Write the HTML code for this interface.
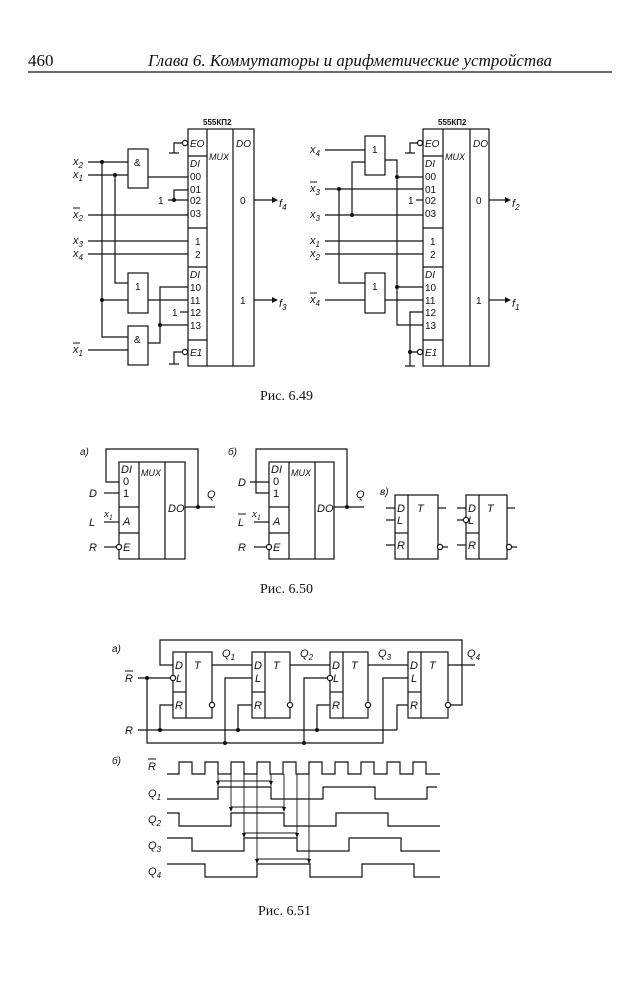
<!DOCTYPE html>
<html><head><meta charset="utf-8"><style>
body{margin:0;background:#fff;}
svg{display:block}
text{font-family:"Liberation Sans",sans-serif;fill:#111}
.i{font-style:italic}
.s{font-family:"Liberation Serif",serif}
</style></head><body>
<svg width="639" height="1000" viewBox="0 0 639 1000" xmlns="http://www.w3.org/2000/svg">
<g stroke="#111" stroke-width="1.2" fill="none">
<line x1="28" y1="72" x2="612" y2="72"/>
</g>
<text x="28" y="66" class="s" font-size="17">460</text>
<text x="148" y="66" class="s i" font-size="17">Глава 6.  Коммутаторы и арифметические устройства</text>

<!-- ===== Fig 6.49 left ===== -->
<g stroke="#111" stroke-width="1.2" fill="none">
<rect x="188" y="129" width="66" height="237"/>
<line x1="207" y1="129" x2="207" y2="366"/><line x1="233" y1="129" x2="233" y2="366"/>
<line x1="188" y1="156" x2="207" y2="156"/><line x1="188" y1="228" x2="207" y2="228"/>
<line x1="188" y1="267" x2="207" y2="267"/><line x1="188" y1="340" x2="207" y2="340"/>
<circle cx="185" cy="143" r="2.6" fill="#fff"/><polyline points="182,143 174,143 174,153"/><line x1="169" y1="153" x2="179" y2="153"/>
<circle cx="185" cy="352" r="2.6" fill="#fff"/><polyline points="182,352 174,352 174,364"/><line x1="169" y1="364" x2="179" y2="364"/>
<rect x="128" y="149" width="20" height="39"/>
<rect x="128" y="273" width="20" height="40"/>
<rect x="128" y="326" width="20" height="39"/>
<line x1="88" y1="162" x2="128" y2="162"/><line x1="88" y1="175" x2="128" y2="175"/>
<polyline points="148,177 188,177"/>
<polyline points="188,190 174,190 174,200"/><line x1="168" y1="200" x2="188" y2="200"/>
<line x1="88" y1="215" x2="188" y2="215"/>
<line x1="88" y1="241" x2="188" y2="241"/><line x1="88" y1="254" x2="188" y2="254"/>
<polyline points="115,175 115,283 128,283"/>
<polyline points="102,162 102,337 128,337"/><line x1="102" y1="300" x2="128" y2="300"/>
<line x1="148" y1="300" x2="188" y2="300"/>
<polyline points="148,343 160,343 160,287 188,287"/><line x1="160" y1="325" x2="188" y2="325"/>
<line x1="180" y1="312" x2="188" y2="312"/>
<line x1="88" y1="350" x2="128" y2="350"/>
<line x1="254" y1="200" x2="272" y2="200"/><line x1="254" y1="300" x2="272" y2="300"/>
</g>
<g fill="#111"><circle cx="102" cy="162" r="2"/><circle cx="115" cy="175" r="2"/><circle cx="174" cy="200" r="2"/><circle cx="102" cy="300" r="2"/><circle cx="160" cy="325" r="2"/>
<polygon points="272,197 278,200 272,203"/><polygon points="272,297 278,300 272,303"/></g>
<g font-size="10">
<text x="203" y="125" font-weight="bold" font-size="8">555КП2</text>
<text x="190" y="147" class="i">EO</text><text x="236" y="147" class="i">DO</text><text x="209" y="160" class="i" font-size="9">MUX</text>
<text x="190" y="167" class="i">DI</text><text x="190" y="180">00</text><text x="190" y="193">01</text><text x="190" y="204">02</text><text x="190" y="217">03</text>
<text x="195" y="245">1</text><text x="195" y="258">2</text>
<text x="190" y="278" class="i">DI</text><text x="190" y="291">10</text><text x="190" y="304">11</text><text x="190" y="316">12</text><text x="190" y="329">13</text>
<text x="190" y="356" class="i">E1</text>
<text x="240" y="204">0</text><text x="240" y="304">1</text>
<text x="134" y="166">&amp;</text><text x="135" y="290">1</text><text x="134" y="343">&amp;</text>
<text x="158" y="204">1</text><text x="172" y="316">1</text>
</g>
<g font-size="11" class="i s">
<text x="73" y="165">x<tspan font-size="8" dy="3">2</tspan></text>
<text x="73" y="178">x<tspan font-size="8" dy="3">1</tspan></text>
<text x="73" y="218">x<tspan font-size="8" dy="3">2</tspan></text>
<text x="73" y="244">x<tspan font-size="8" dy="3">3</tspan></text>
<text x="73" y="257">x<tspan font-size="8" dy="3">4</tspan></text>
<text x="73" y="353">x<tspan font-size="8" dy="3">1</tspan></text>
<text x="279" y="207">f<tspan font-size="8" dy="3">4</tspan></text>
<text x="279" y="307">f<tspan font-size="8" dy="3">3</tspan></text>
</g>
<g stroke="#111"><line x1="73" y1="208" x2="80" y2="208"/><line x1="73" y1="343" x2="80" y2="343"/></g>

<!-- ===== Fig 6.49 right ===== -->
<g stroke="#111" stroke-width="1.2" fill="none">
<rect x="423" y="129" width="66" height="237"/>
<line x1="443" y1="129" x2="443" y2="366"/><line x1="470" y1="129" x2="470" y2="366"/>
<line x1="423" y1="156" x2="443" y2="156"/><line x1="423" y1="228" x2="443" y2="228"/>
<line x1="423" y1="267" x2="443" y2="267"/><line x1="423" y1="340" x2="443" y2="340"/>
<circle cx="420" cy="143" r="2.6" fill="#fff"/><polyline points="417,143 410,143 410,153"/><line x1="405" y1="153" x2="415" y2="153"/>
<circle cx="420" cy="352" r="2.6" fill="#fff"/><polyline points="417,352 410,352 410,366"/><line x1="405" y1="366" x2="415" y2="366"/>
<polyline points="423,312 410,312 410,352"/>
<rect x="365" y="136" width="20" height="39"/>
<rect x="365" y="273" width="20" height="40"/>
<line x1="325" y1="150" x2="365" y2="150"/>
<polyline points="385,160 397,160 397,325 423,325"/><line x1="397" y1="177" x2="423" y2="177"/><line x1="397" y1="287" x2="423" y2="287"/>
<line x1="325" y1="189" x2="423" y2="189"/><line x1="416" y1="200" x2="423" y2="200"/>
<line x1="325" y1="215" x2="423" y2="215"/>
<polyline points="352,215 352,162 365,162"/>
<polyline points="339,189 339,283 365,283"/>
<line x1="325" y1="241" x2="423" y2="241"/><line x1="325" y1="254" x2="423" y2="254"/>
<line x1="325" y1="300" x2="365" y2="300"/><line x1="385" y1="300" x2="423" y2="300"/>
<line x1="489" y1="200" x2="505" y2="200"/><line x1="489" y1="300" x2="505" y2="300"/>
</g>
<g fill="#111"><circle cx="397" cy="177" r="2"/><circle cx="397" cy="287" r="2"/><circle cx="339" cy="189" r="2"/><circle cx="352" cy="215" r="2"/><circle cx="410" cy="352" r="2"/>
<polygon points="505,197 511,200 505,203"/><polygon points="505,297 511,300 505,303"/></g>
<g font-size="10">
<text x="438" y="125" font-weight="bold" font-size="8">555КП2</text>
<text x="425" y="147" class="i">EO</text><text x="473" y="147" class="i">DO</text><text x="445" y="160" class="i" font-size="9">MUX</text>
<text x="425" y="167" class="i">DI</text><text x="425" y="180">00</text><text x="425" y="193">01</text><text x="425" y="204">02</text><text x="425" y="217">03</text>
<text x="430" y="245">1</text><text x="430" y="258">2</text>
<text x="425" y="278" class="i">DI</text><text x="425" y="291">10</text><text x="425" y="304">11</text><text x="425" y="316">12</text><text x="425" y="329">13</text>
<text x="425" y="356" class="i">E1</text>
<text x="476" y="204">0</text><text x="476" y="304">1</text>
<text x="372" y="153">1</text><text x="372" y="290">1</text>
<text x="408" y="204">1</text>
</g>
<g font-size="11" class="i s">
<text x="310" y="153">x<tspan font-size="8" dy="3">4</tspan></text>
<text x="310" y="192">x<tspan font-size="8" dy="3">3</tspan></text>
<text x="310" y="218">x<tspan font-size="8" dy="3">3</tspan></text>
<text x="310" y="244">x<tspan font-size="8" dy="3">1</tspan></text>
<text x="310" y="257">x<tspan font-size="8" dy="3">2</tspan></text>
<text x="310" y="303">x<tspan font-size="8" dy="3">4</tspan></text>
<text x="512" y="207">f<tspan font-size="8" dy="3">2</tspan></text>
<text x="512" y="307">f<tspan font-size="8" dy="3">1</tspan></text>
</g>
<g stroke="#111"><line x1="310" y1="182" x2="317" y2="182"/><line x1="310" y1="293" x2="317" y2="293"/></g>
<text x="260" y="400" class="s" font-size="14">Рис. 6.49</text>

<!-- ===== Fig 6.50 ===== -->
<g stroke="#111" stroke-width="1.2" fill="none">
<rect x="119" y="462" width="66" height="97"/>
<line x1="139" y1="462" x2="139" y2="559"/><line x1="165" y1="462" x2="165" y2="559"/>
<line x1="119" y1="507" x2="139" y2="507"/><line x1="119" y1="533" x2="139" y2="533"/>
<polyline points="119,482 106,482 106,449 198,449 198,507"/>
<line x1="185" y1="507" x2="215" y2="507"/>
<line x1="104" y1="493" x2="119" y2="493"/><line x1="104" y1="522" x2="119" y2="522"/>
<line x1="104" y1="547" x2="116" y2="547"/><circle cx="119" cy="547" r="2.6" fill="#fff"/>

<rect x="269" y="462" width="65" height="97"/>
<line x1="289" y1="462" x2="289" y2="559"/><line x1="315" y1="462" x2="315" y2="559"/>
<line x1="269" y1="507" x2="289" y2="507"/><line x1="269" y1="533" x2="289" y2="533"/>
<polyline points="269,493 256,493 256,449 347,449 347,507"/>
<line x1="334" y1="507" x2="364" y2="507"/>
<line x1="250" y1="482" x2="269" y2="482"/><line x1="254" y1="522" x2="269" y2="522"/>
<line x1="254" y1="547" x2="266" y2="547"/><circle cx="269" cy="547" r="2.6" fill="#fff"/>

<rect x="395" y="495" width="43" height="64"/><line x1="408" y1="495" x2="408" y2="559"/><line x1="395" y1="533" x2="408" y2="533"/>
<line x1="386" y1="508" x2="395" y2="508"/><line x1="386" y1="520" x2="395" y2="520"/><line x1="386" y1="545" x2="395" y2="545"/>
<line x1="438" y1="508" x2="446" y2="508"/><circle cx="440" cy="547" r="2.6" fill="#fff"/><line x1="443" y1="547" x2="448" y2="547"/>
<rect x="466" y="495" width="41" height="64"/><line x1="479" y1="495" x2="479" y2="559"/><line x1="466" y1="533" x2="479" y2="533"/>
<line x1="457" y1="508" x2="466" y2="508"/><line x1="457" y1="520" x2="463" y2="520"/><circle cx="466" cy="520" r="2.6" fill="#fff"/><line x1="457" y1="545" x2="466" y2="545"/>
<line x1="507" y1="508" x2="515" y2="508"/><circle cx="509" cy="547" r="2.6" fill="#fff"/><line x1="512" y1="547" x2="517" y2="547"/>
</g>
<g fill="#111"><circle cx="198" cy="507" r="2"/><circle cx="347" cy="507" r="2"/></g>
<g font-size="11" class="i">
<text x="80" y="455" font-size="10">a)</text><text x="228" y="455" font-size="10">б)</text><text x="380" y="495" font-size="10">в)</text>
<text x="121" y="473">DI</text><text x="141" y="476" font-size="9">MUX</text><text x="123" y="485" style="font-style:normal">0</text><text x="123" y="497" style="font-style:normal">1</text>
<text x="123" y="525">A</text><text x="123" y="551">E</text><text x="168" y="512">DO</text>
<text x="89" y="497">D</text><text x="89" y="526">L</text><text x="89" y="551">R</text><text x="104" y="517" class="s">x<tspan font-size="8" dy="3">1</tspan></text><text x="207" y="498">Q</text>
<text x="271" y="473">DI</text><text x="291" y="476" font-size="9">MUX</text><text x="273" y="485" style="font-style:normal">0</text><text x="273" y="497" style="font-style:normal">1</text>
<text x="273" y="525">A</text><text x="273" y="551">E</text><text x="317" y="512">DO</text>
<text x="238" y="486">D</text><text x="238" y="526">L</text><text x="238" y="551">R</text><text x="252" y="517" class="s">x<tspan font-size="8" dy="3">1</tspan></text><text x="356" y="498">Q</text>
<text x="397" y="512">D</text><text x="397" y="524">L</text><text x="397" y="549">R</text><text x="417" y="512">T</text>
<text x="468" y="512">D</text><text x="468" y="524">L</text><text x="468" y="549">R</text><text x="487" y="512">T</text>
</g>
<line x1="238" y1="514" x2="246" y2="514" stroke="#111"/>
<text x="260" y="593" class="s" font-size="14">Рис. 6.50</text>

<!-- ===== Fig 6.51 ===== -->
<g stroke="#111" stroke-width="1.2" fill="none">
<rect x="173" y="652" width="39" height="66"/><line x1="186" y1="652" x2="186" y2="718"/><line x1="173" y1="692" x2="186" y2="692"/>
<rect x="252" y="652" width="38" height="66"/><line x1="265" y1="652" x2="265" y2="718"/><line x1="252" y1="692" x2="265" y2="692"/>
<rect x="330" y="652" width="38" height="66"/><line x1="343" y1="652" x2="343" y2="718"/><line x1="330" y1="692" x2="343" y2="692"/>
<rect x="408" y="652" width="40" height="66"/><line x1="421" y1="652" x2="421" y2="718"/><line x1="408" y1="692" x2="421" y2="692"/>
<line x1="212" y1="665" x2="252" y2="665"/><line x1="290" y1="665" x2="330" y2="665"/><line x1="368" y1="665" x2="408" y2="665"/><line x1="448" y1="665" x2="475" y2="665"/>
<polyline points="173,665 160,665 160,640 462,640 462,705 451,705"/>
<circle cx="212" cy="705" r="2.6" fill="#fff"/><circle cx="290" cy="705" r="2.6" fill="#fff"/><circle cx="368" cy="705" r="2.6" fill="#fff"/><circle cx="448" cy="705" r="2.6" fill="#fff"/>
<line x1="138" y1="678" x2="170" y2="678"/><circle cx="173" cy="678" r="2.6" fill="#fff"/>
<polyline points="147,678 147,743 383,743 383,678 408,678"/>
<polyline points="225,743 225,678 252,678"/>
<polyline points="304,743 304,678 327,678"/><circle cx="330" cy="678" r="2.6" fill="#fff"/>
<line x1="138" y1="730" x2="397" y2="730"/>
<polyline points="160,730 160,705 173,705"/><polyline points="238,730 238,705 252,705"/><polyline points="317,730 317,705 330,705"/><polyline points="397,730 397,705 408,705"/>
<!-- waveforms -->
<path d="M167,774 H179 V762 H192 V774 H205 V762 H218 V774 H231 V762 H244 V774 H257 V762 H270 V774 H283 V762 H296 V774 H309 V762 H322 V774 H335 V762 H348 V774 H361 V762 H374 V774 H387 V762 H400 V774 H413 V762 H426 V774 H440"/>
<path d="M167,799 H218 V787 H271 V799 H323 V787 H375 V799 H427 V787 H437"/>
<path d="M167,813 H179 V826 H231 V813 H284 V826 H336 V813 H388 V826 H440"/>
<path d="M167,838 H192 V851 H244 V838 H297 V851 H349 V838 H401 V851 H440"/>
<path d="M167,864 H205 V877 H257 V864 H310 V877 H362 V864 H414 V877 H440"/>
<g stroke-width="0.9">
<line x1="218" y1="774" x2="218" y2="786"/><line x1="271" y1="774" x2="271" y2="786"/><line x1="218" y1="781" x2="271" y2="781"/>
<line x1="231" y1="774" x2="231" y2="811"/><line x1="284" y1="774" x2="284" y2="811"/><line x1="231" y1="807" x2="284" y2="807"/>
<line x1="244" y1="774" x2="244" y2="837"/><line x1="297" y1="774" x2="297" y2="837"/><line x1="244" y1="833" x2="297" y2="833"/>
<line x1="257" y1="774" x2="257" y2="863"/><line x1="309" y1="774" x2="309" y2="863"/><line x1="257" y1="859" x2="309" y2="859"/>
</g>
</g>
<g fill="#111"><circle cx="147" cy="678" r="2"/><circle cx="160" cy="730" r="2"/><circle cx="238" cy="730" r="2"/><circle cx="317" cy="730" r="2"/><circle cx="225" cy="743" r="2"/><circle cx="304" cy="743" r="2"/>
<polygon points="216,781 220,781 218,786"/><polygon points="269,781 273,781 271,786"/>
<polygon points="229,807 233,807 231,812"/><polygon points="282,807 286,807 284,812"/>
<polygon points="242,833 246,833 244,838"/><polygon points="295,833 299,833 297,838"/>
<polygon points="255,859 259,859 257,864"/><polygon points="307,859 311,859 309,864"/></g>
<g font-size="11" class="i">
<text x="112" y="652" font-size="10">a)</text><text x="112" y="764" font-size="10">б)</text>
<text x="175" y="669">D</text><text x="176" y="682">L</text><text x="175" y="709">R</text><text x="194" y="669">T</text>
<text x="254" y="669">D</text><text x="255" y="682">L</text><text x="254" y="709">R</text><text x="273" y="669">T</text>
<text x="332" y="669">D</text><text x="333" y="682">L</text><text x="332" y="709">R</text><text x="351" y="669">T</text>
<text x="410" y="669">D</text><text x="411" y="682">L</text><text x="410" y="709">R</text><text x="429" y="669">T</text>
<text x="222" y="657">Q<tspan font-size="8" dy="3">1</tspan></text><text x="300" y="657">Q<tspan font-size="8" dy="3">2</tspan></text>
<text x="378" y="657">Q<tspan font-size="8" dy="3">3</tspan></text><text x="467" y="657">Q<tspan font-size="8" dy="3">4</tspan></text>
<text x="125" y="682">R</text><text x="125" y="734">R</text>
<text x="148" y="770">R</text>
<text x="148" y="797">Q<tspan font-size="8" dy="3">1</tspan></text><text x="148" y="823">Q<tspan font-size="8" dy="3">2</tspan></text>
<text x="148" y="849">Q<tspan font-size="8" dy="3">3</tspan></text><text x="148" y="875">Q<tspan font-size="8" dy="3">4</tspan></text>
</g>
<g stroke="#111"><line x1="125" y1="671" x2="133" y2="671"/><line x1="148" y1="759" x2="156" y2="759"/></g>
<text x="258" y="915" class="s" font-size="14">Рис. 6.51</text>
</svg>
</body></html>
